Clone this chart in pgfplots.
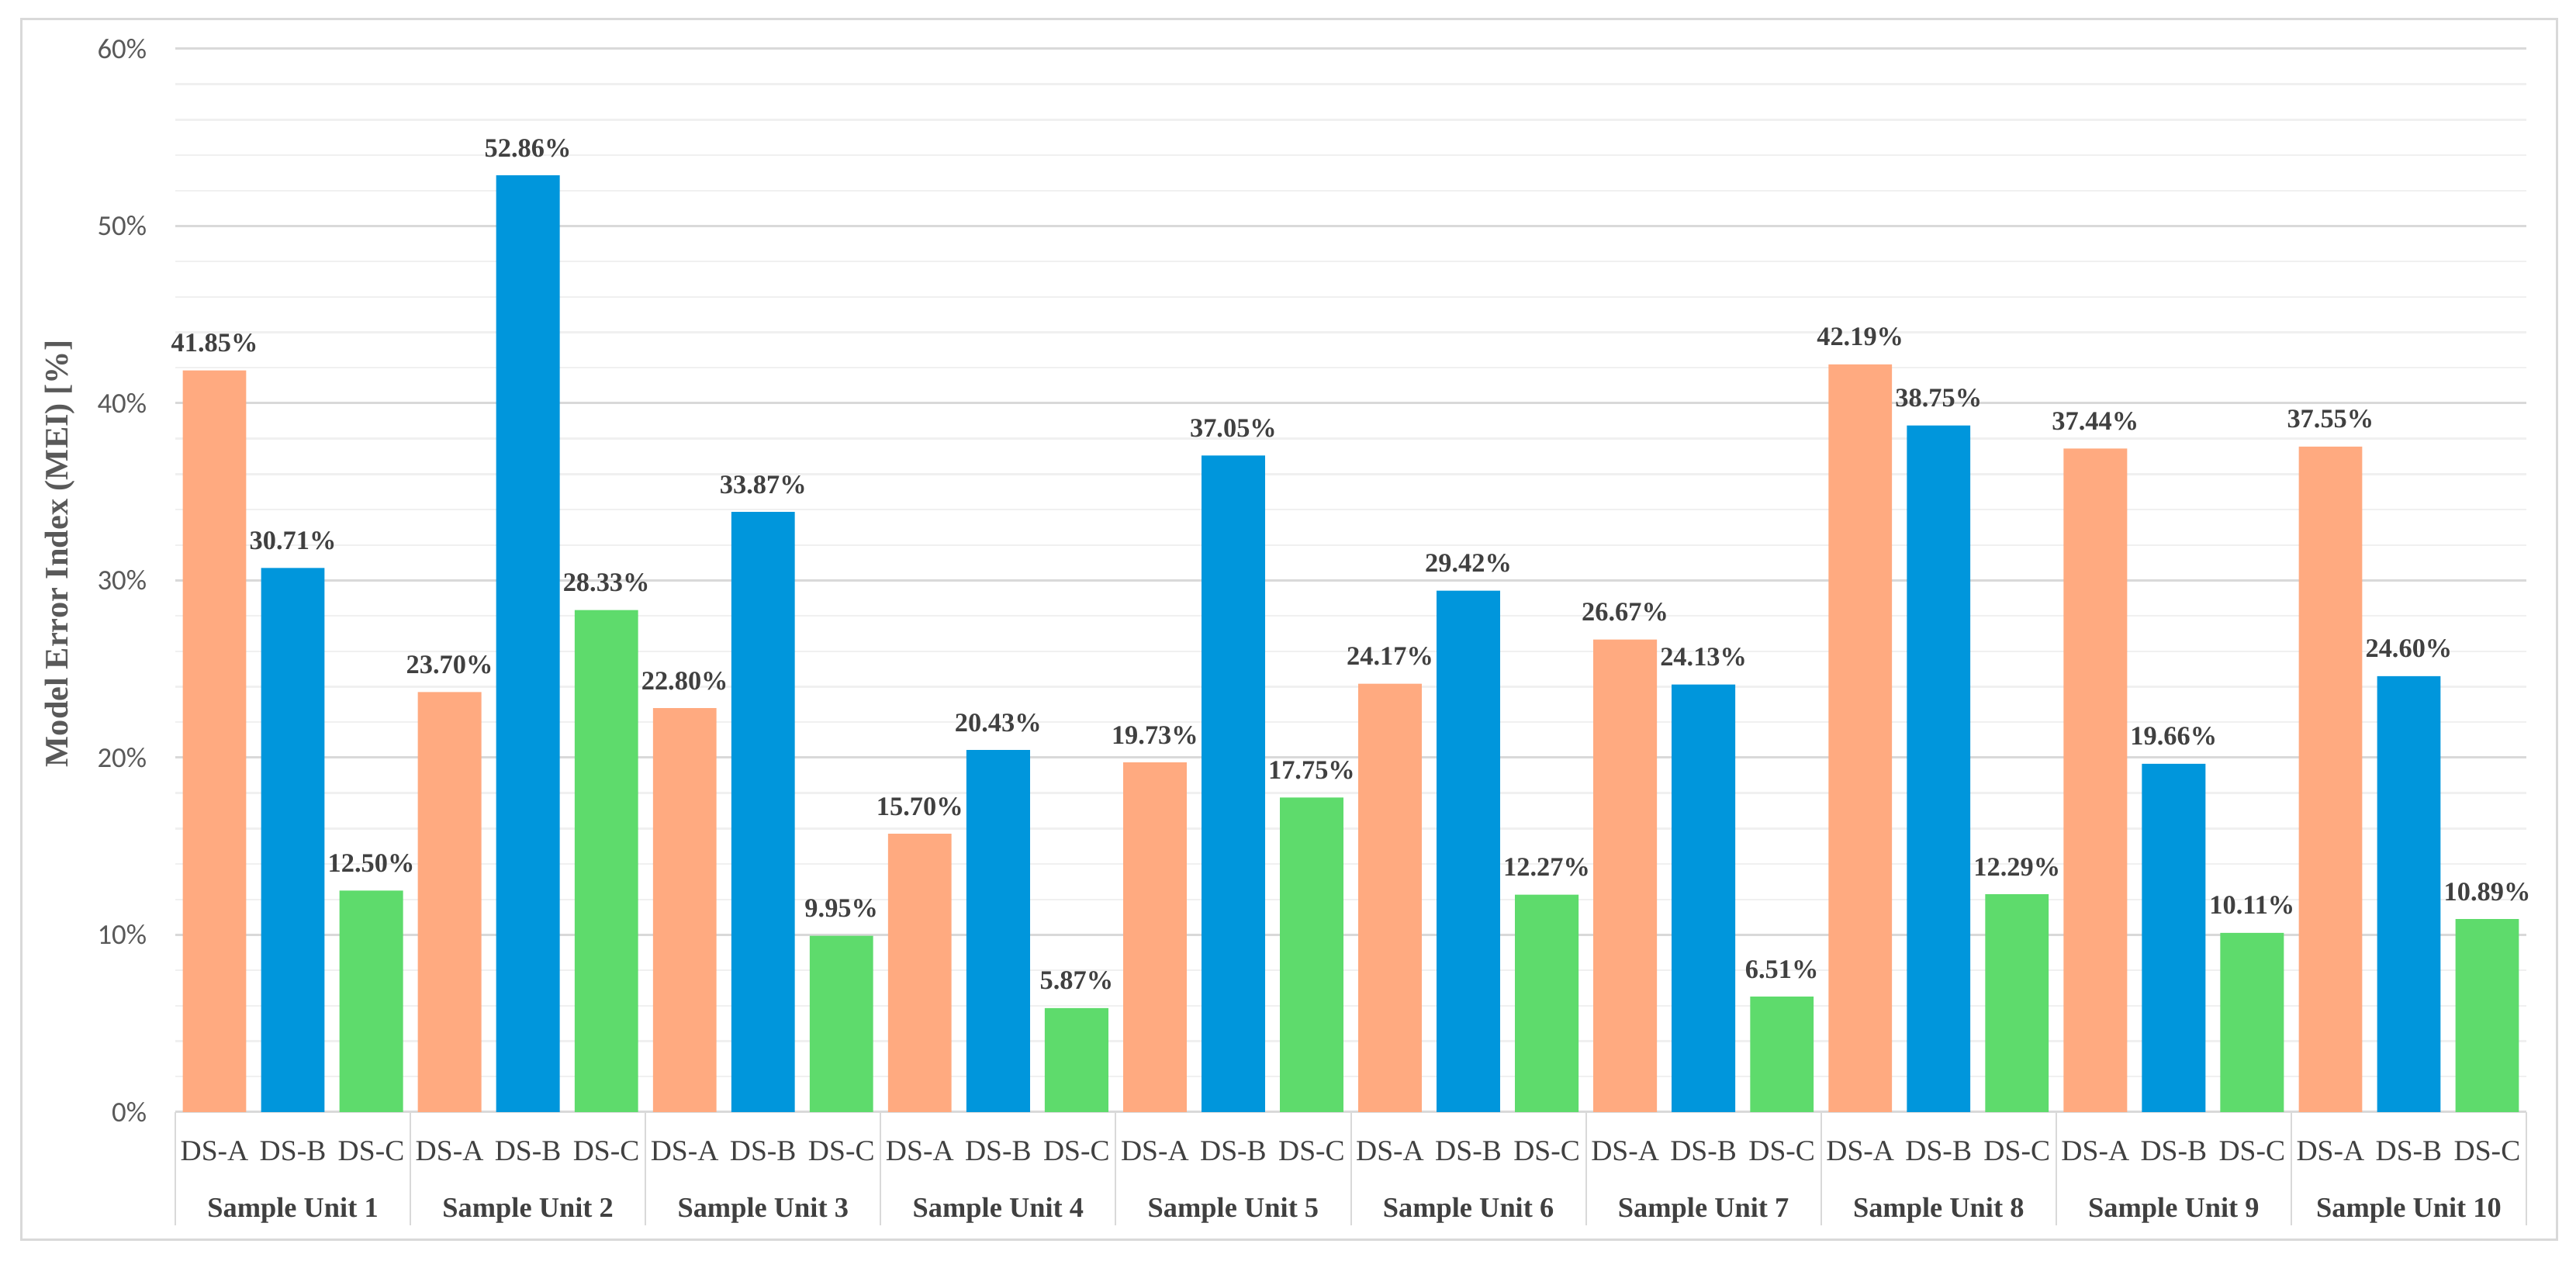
\documentclass[border=0pt]{standalone}
\usepackage{fontspec}
\setmainfont{Liberation Serif}
\newfontfamily\carlito{Carlito}
\usepackage{pgfplots}
\pgfplotsset{compat=1.18}
\definecolor{dsA}{HTML}{FFAA80}
\definecolor{dsB}{HTML}{0096DC}
\definecolor{dsC}{HTML}{5EDB6C}
\definecolor{gridMajor}{HTML}{D9D9D9}
\definecolor{gridMinor}{HTML}{F0F0F0}
\definecolor{tickGray}{HTML}{595959}
\definecolor{labGray}{HTML}{404040}
\definecolor{valGray}{HTML}{404040}
\begin{document}
\begin{tikzpicture}
\useasboundingbox (-56.5pt,-48pt) rectangle (773.75pt,358.5pt);
\draw[gridMajor, line width=0.75pt] (-49.5pt,-41.25pt) rectangle (767.5pt,352.25pt);
\begin{axis}[
	scale only axis,
	width=757.75pt, height=342.75pt,
	xmin=-0.5, xmax=29.5, ymin=0, ymax=60,
	clip=false,
	axis line style={draw=none},
	tick style={draw=none},
	ytick={0,10,...,60},
	minor y tick num=4,
	ymajorgrids, yminorgrids,
	major grid style={color=gridMajor, line width=0.75pt},
	minor grid style={color=gridMinor, line width=0.6pt},
	yticklabel={\pgfmathprintnumber[assume math mode=true]{\tick}\%},
	yticklabel style={font=\carlito\fontsize{9.2}{11}\selectfont, text=tickGray, anchor=east, inner sep=0pt, xshift=-9pt},
	xtick={0,...,29},
	xticklabels={DS-A,DS-B,DS-C,DS-A,DS-B,DS-C,DS-A,DS-B,DS-C,DS-A,DS-B,DS-C,DS-A,DS-B,DS-C,
		DS-A,DS-B,DS-C,DS-A,DS-B,DS-C,DS-A,DS-B,DS-C,DS-A,DS-B,DS-C,DS-A,DS-B,DS-C},
	xticklabel style={font=\fontsize{9.4}{11}\selectfont, text=labGray, anchor=base, inner sep=0pt, yshift=-15.75pt},
	bar width=0.81,
	nodes near coords={\pgfmathprintnumber[fixed,fixed zerofill,precision=2,assume math mode=true]{\pgfplotspointmeta}\%},
	every node near coord/.append style={font=\bfseries\fontsize{8.6}{10}\selectfont, text=valGray, anchor=base, inner sep=0pt, yshift=6pt},
]
% DS-A
\addplot[ybar, fill=dsA, draw=none] coordinates {
	(0,41.85) (3,23.70) (6,22.80) (9,15.70) (12,19.73)
	(15,24.17) (18,26.67) (21,42.19) (24,37.44) (27,37.55)};
% DS-B
\addplot[ybar, fill=dsB, draw=none] coordinates {
	(1,30.71) (4,52.86) (7,33.87) (10,20.43) (13,37.05)
	(16,29.42) (19,24.13) (22,38.75) (25,19.66) (28,24.60)};
% DS-C
\addplot[ybar, fill=dsC, draw=none] coordinates {
	(2,12.50) (5,28.33) (8,9.95) (11,5.87) (14,17.75)
	(17,12.27) (20,6.51) (23,12.29) (26,10.11) (29,10.89)};
% group separators
\pgfplotsinvokeforeach{-0.5,2.5,5.5,8.5,11.5,14.5,17.5,20.5,23.5,26.5,29.5}{
	\draw[gridMajor, line width=0.5pt] (axis cs:#1,0) -- ([yshift=-36.5pt]axis cs:#1,0);
}
% group labels
\tikzset{grp/.style={font=\bfseries\fontsize{9.1}{11}\selectfont, text=labGray, anchor=base, inner sep=0pt}}
\node[grp] at ([yshift=-34pt]axis cs:1,0) {Sample Unit 1};
\node[grp] at ([yshift=-34pt]axis cs:4,0) {Sample Unit 2};
\node[grp] at ([yshift=-34pt]axis cs:7,0) {Sample Unit 3};
\node[grp] at ([yshift=-34pt]axis cs:10,0) {Sample Unit 4};
\node[grp] at ([yshift=-34pt]axis cs:13,0) {Sample Unit 5};
\node[grp] at ([yshift=-34pt]axis cs:16,0) {Sample Unit 6};
\node[grp] at ([yshift=-34pt]axis cs:19,0) {Sample Unit 7};
\node[grp] at ([yshift=-34pt]axis cs:22,0) {Sample Unit 8};
\node[grp] at ([yshift=-34pt]axis cs:25,0) {Sample Unit 9};
\node[grp] at ([yshift=-34pt]axis cs:28,0) {Sample Unit 10};
\end{axis}
\node[rotate=90, anchor=base, inner sep=0pt, font=\bfseries\fontsize{10.6}{12}\selectfont, text=tickGray] at (-34.75pt,180pt) {Model Error Index (MEI) [\%]};
\end{tikzpicture}
\end{document}
